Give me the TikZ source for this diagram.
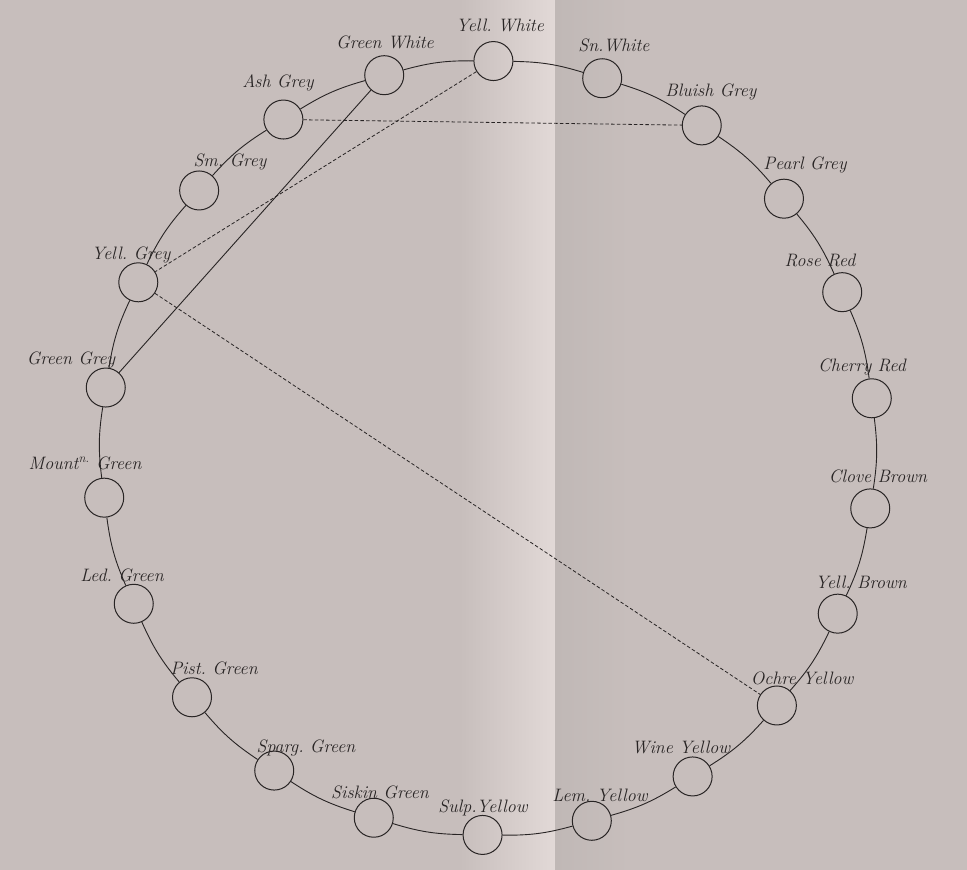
\documentclass[tikz,border=0pt]{standalone}
\usetikzlibrary{calc}
\definecolor{paper}{RGB}{199,190,188}
\definecolor{paperlight}{RGB}{226,217,215}
\definecolor{paperdark}{RGB}{192,184,182}
\definecolor{ink}{RGB}{40,36,36}
\frenchspacing
\begin{document}
\begin{tikzpicture}[x=1pt,y=1pt,
  disc/.style={circle, draw=ink, line width=1pt, minimum size=39pt, inner sep=0pt},
  ring/.style={draw=ink, line width=0.9pt},
  chord/.style={draw=ink, line width=0.9pt},
  dchord/.style={draw=ink, line width=0.8pt, dash pattern=on 3.5pt off 2.2pt},
  lab/.style={font=\fontsize{18}{20}\selectfont\itshape, text=ink, inner sep=0pt}]
\fill[paper] (0,0) rectangle (967,870);
\shade[left color=paper, right color=paperlight] (460,0) rectangle (555,870);
\shade[left color=paperdark, right color=paper] (555,0) rectangle (630,870);
\useasboundingbox (0,0) rectangle (967,870);
\coordinate (O) at (488,422);
% labels
\node[lab] (l0) at (500,845) {Yell. White};
\node[lab] (l1) at (614,825) {Sn.White};
\node[lab] (l2) at (711,778) {Bluish Grey};
\node[lab] (l3) at (805,705) {Pearl Grey};
\node[lab] (l4) at (820,610) {Rose Red};
\node[lab] (l5) at (862,503) {Cherry Red};
\node[lab] (l6) at (878,394) {Clove Brown};
\node[lab] (l7) at (861,288) {Yell. Brown};
\node[lab] (l8) at (802,192) {Ochre Yellow};
\node[lab] (l9) at (681,123) {Wine Yellow};
\node[lab] (l10) at (600,75) {Lem. Yellow};
\node[lab] (l11) at (483,62) {Sulp.Yellow};
\node[lab] (l12) at (380,78) {Siskin Green};
\node[lab] (l13) at (306,122) {Sparg. Green};
\node[lab] (l14) at (214,202) {Pist. Green};
\node[lab] (l15) at (122,295) {Led. Green};
\node[lab] (l16) at (85,407) {Mount\textsuperscript{n.} Green};
\node[lab] (l17) at (71,510) {Green Grey};
\node[lab] (l18) at (131,615) {Yell. Grey};
\node[lab] (l19) at (230,708) {Sm. Grey};
\node[lab] (l20) at (278,787) {Ash Grey};
\node[lab] (l21) at (385,828) {Green White};
% discs
\foreach \i in {0,...,21}{
  \node[disc] (n\i) at ([shift={({89.2-16.364*\i}:387)}]O) {};
}
% ring
\foreach \i in {0,...,21}{
  \pgfmathtruncatemacro\j{mod(\i+1,22)}
  \draw[ring] (n\i) to[bend left=8] (n\j);
}
% chords
\draw[chord] (n21) -- (n17);
\draw[dchord] (n20) -- (n2);
\draw[dchord] (n0) -- (n18);
\draw[dchord] (n18) -- (n8);
\end{tikzpicture}
\end{document}
